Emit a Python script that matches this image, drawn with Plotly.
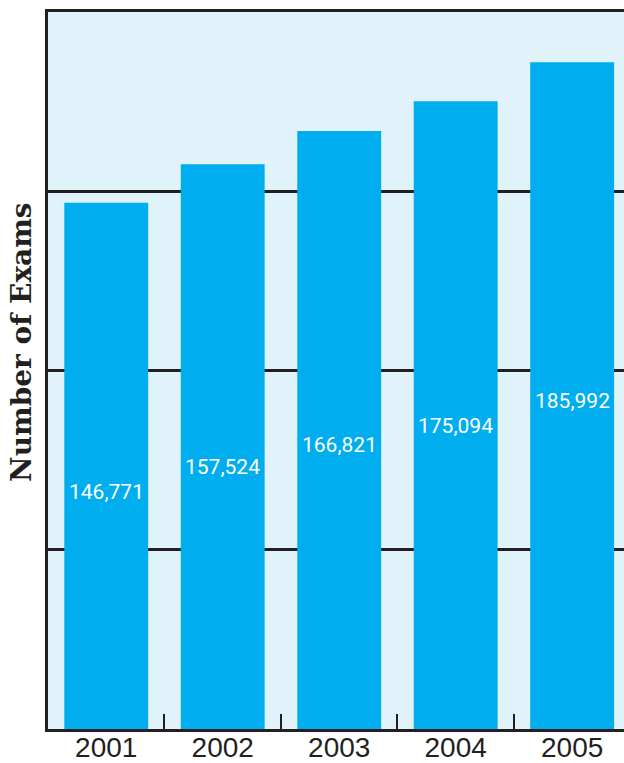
import plotly.graph_objects as go

years = ["2001", "2002", "2003", "2004", "2005"]
exams = [146771, 157524, 166821, 175094, 185992]
labels = ["146,771", "157,524", "166,821", "175,094", "185,992"]
y_title = "Number of Exams"

fig = go.Figure()
fig.add_trace(go.Bar(
    x=years, y=exams,
    marker=dict(color="#00AEEF", line=dict(width=0)),
    hoverinfo="skip",
))

# value labels placed inside bars (height derived from the values)
for i, (v, lab) in enumerate(zip(exams, labels)):
    fig.add_annotation(
        x=i, y=0.647 * v - 28850, text=lab, showarrow=False,
        font=dict(family="Liberation Sans Narrow, Roboto, Liberation Sans", size=21, color="white"),
        xref="x", yref="y",
    )

fig.add_annotation(
    xref="paper", yref="paper", x=-0.045, y=0.54, xanchor="center", yanchor="middle",
    text=y_title, textangle=-90, showarrow=False,
    font=dict(family="DejaVu Serif, Noto Serif, serif", size=28, color="#231f20", weight="bold"),
)

fig.update_layout(
    width=624, height=763,
    margin=dict(l=48, r=0, t=12, b=34),
    paper_bgcolor="white",
    plot_bgcolor="#E0F2FA",
    bargap=0.28,
    showlegend=False,
    xaxis=dict(
        type="category",
        range=[-0.5, 4.445],
        automargin=False,
        showline=True, linecolor="#231f20", linewidth=3, mirror=True,
        ticks="inside", tickson="boundaries", ticklen=15, tickwidth=2, tickcolor="#231f20",
        tickfont=dict(family="Liberation Sans, Arial", size=28, color="#231f20"),
        ticklabelstandoff=-9,
        showgrid=False,
    ),
    yaxis=dict(
        range=[0, 200000],
        tickvals=[50000, 100000, 150000],
        showticklabels=False,
        automargin=False,
        showgrid=True, gridcolor="#231f20", gridwidth=2.5,
        zeroline=False,
        showline=True, linecolor="#231f20", linewidth=3,
        ticks="",
    ),
)

fig.write_html("out.html")
